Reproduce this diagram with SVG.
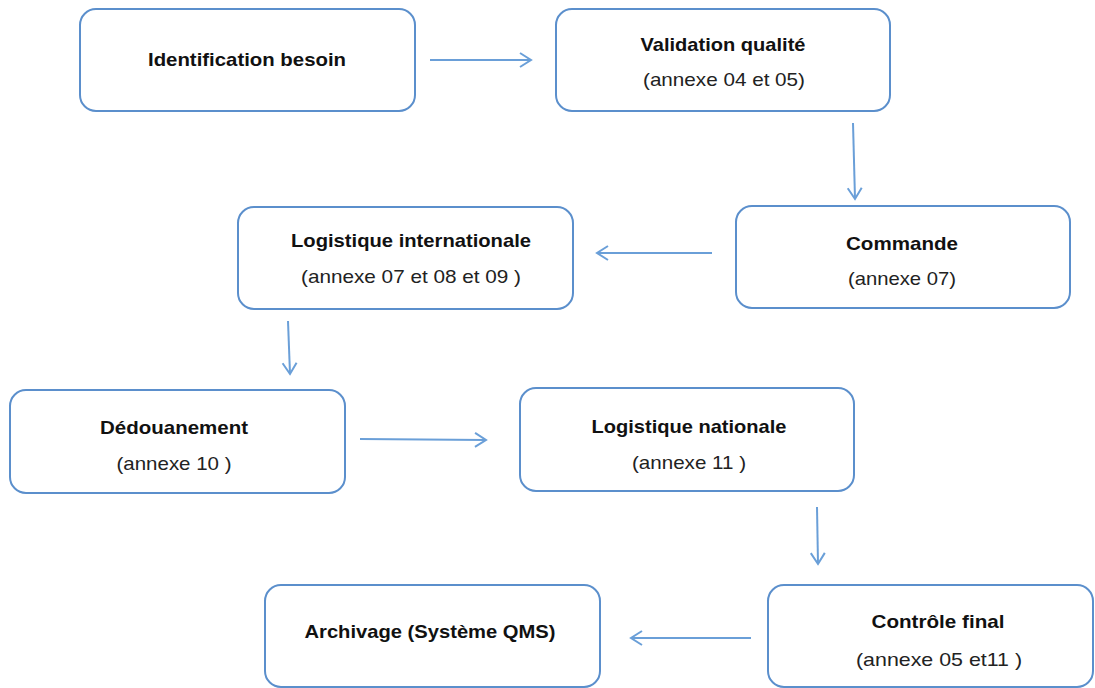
<svg xmlns="http://www.w3.org/2000/svg" width="1095" height="688" viewBox="0 0 1095 688">
<defs>
<marker id="arr" markerWidth="16" markerHeight="20" refX="14" refY="10" orient="auto" markerUnits="userSpaceOnUse">
<path d="M3,3 L14,10 L3,17" fill="none" stroke="#6a9fd8" stroke-width="2"/>
</marker>
</defs>
<style>
.box{fill:#ffffff;stroke:#5b8fcc;stroke-width:2}
.conn{stroke:#6a9fd8;stroke-width:2;fill:none;marker-end:url(#arr)}
.t{font-family:"Liberation Sans",Arial,sans-serif;font-weight:bold;font-size:19px;fill:#111111;text-anchor:middle}
.s{font-family:"Liberation Sans",Arial,sans-serif;font-size:19px;fill:#222222;text-anchor:middle}
</style>
<rect width="1095" height="688" fill="#ffffff"/>
<g id="n1">
<rect class="box" x="80" y="9" width="335" height="102" rx="16"/>
<text class="t" x="247" y="66" textLength="198" lengthAdjust="spacingAndGlyphs">Identification besoin</text>
</g>
<g id="n2">
<rect class="box" x="556" y="9" width="334" height="102" rx="16"/>
<text class="t" x="723" y="51" textLength="165" lengthAdjust="spacingAndGlyphs">Validation qualité</text>
<text class="s" x="724" y="86" textLength="162" lengthAdjust="spacingAndGlyphs">(annexe 04 et 05)</text>
</g>
<g id="n3">
<rect class="box" x="736" y="206" width="334" height="102" rx="16"/>
<text class="t" x="902" y="250" textLength="112" lengthAdjust="spacingAndGlyphs">Commande</text>
<text class="s" x="902" y="285" textLength="108" lengthAdjust="spacingAndGlyphs">(annexe 07)</text>
</g>
<g id="n4">
<rect class="box" x="238" y="207" width="335" height="102" rx="16"/>
<text class="t" x="411" y="247" textLength="240" lengthAdjust="spacingAndGlyphs">Logistique internationale</text>
<text class="s" x="411" y="283" textLength="220" lengthAdjust="spacingAndGlyphs">(annexe 07 et 08 et 09 )</text>
</g>
<g id="n5">
<rect class="box" x="10" y="390" width="335" height="103" rx="16"/>
<text class="t" x="174" y="434" textLength="148" lengthAdjust="spacingAndGlyphs">Dédouanement</text>
<text class="s" x="174" y="470" textLength="115" lengthAdjust="spacingAndGlyphs">(annexe 10 )</text>
</g>
<g id="n6">
<rect class="box" x="520" y="388" width="334" height="103" rx="16"/>
<text class="t" x="689" y="433" textLength="195" lengthAdjust="spacingAndGlyphs">Logistique nationale</text>
<text class="s" x="689" y="469" textLength="114" lengthAdjust="spacingAndGlyphs">(annexe 11 )</text>
</g>
<g id="n7">
<rect class="box" x="768" y="585" width="325" height="102" rx="16"/>
<text class="t" x="938" y="628" textLength="133" lengthAdjust="spacingAndGlyphs">Contrôle final</text>
<text class="s" x="939" y="666" textLength="166" lengthAdjust="spacingAndGlyphs">(annexe 05 et11 )</text>
</g>
<g id="n8">
<rect class="box" x="265" y="585" width="335" height="102" rx="16"/>
<text class="t" x="430" y="638" textLength="251" lengthAdjust="spacingAndGlyphs">Archivage (Système QMS)</text>
</g>
<g id="connectors">
<line class="conn" x1="430" y1="60" x2="531" y2="60"/>
<line class="conn" x1="853" y1="123" x2="855" y2="199"/>
<line class="conn" x1="712" y1="253" x2="597" y2="253"/>
<line class="conn" x1="288" y1="321" x2="290" y2="374"/>
<line class="conn" x1="360" y1="439" x2="486" y2="440"/>
<line class="conn" x1="817" y1="507" x2="818" y2="564"/>
<line class="conn" x1="751" y1="638" x2="631" y2="638"/>
</g>
</svg>
